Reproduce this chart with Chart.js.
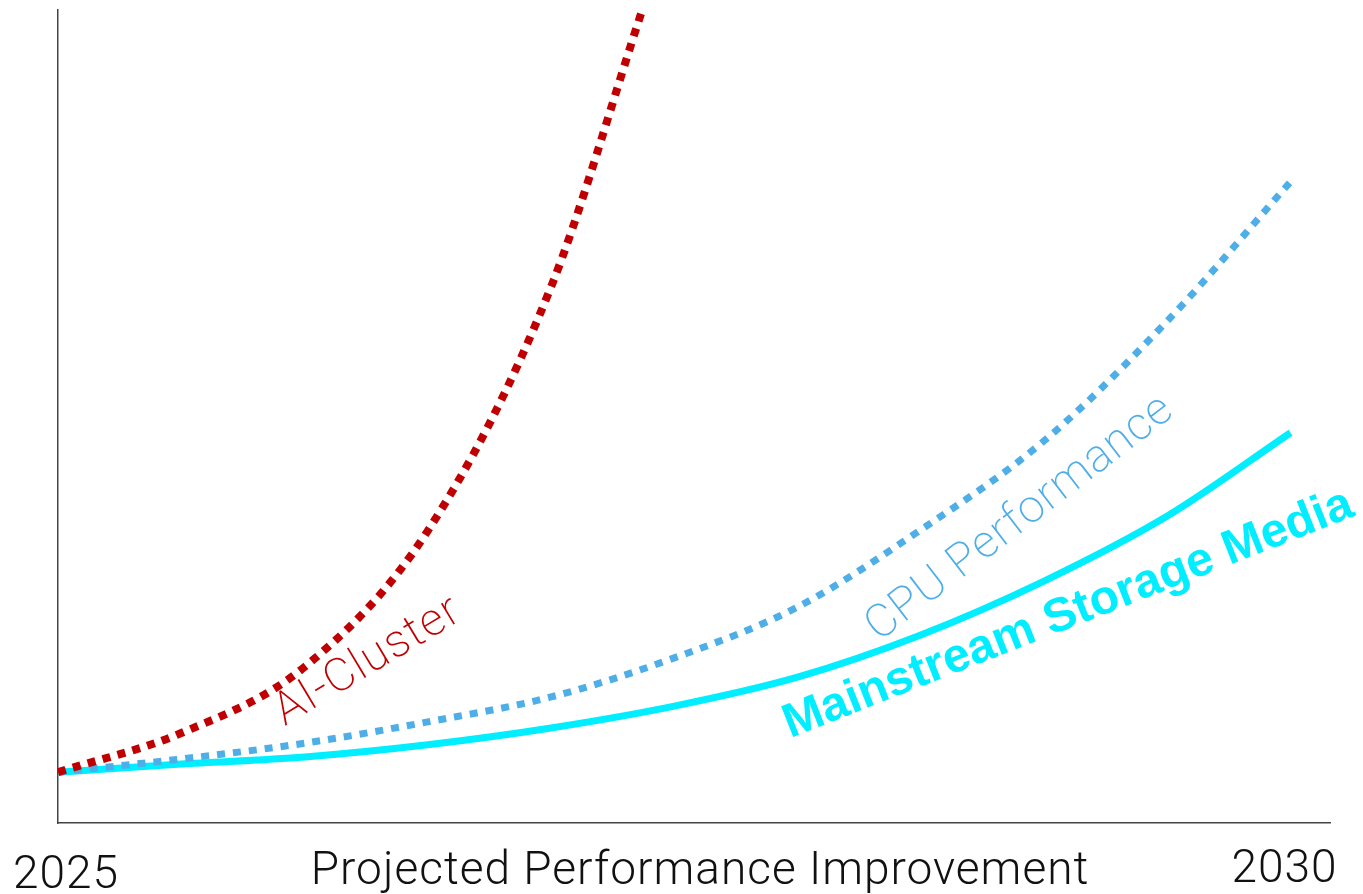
<!DOCTYPE html>
<html>
<head>
<meta charset="utf-8">
<script src="https://cdn.jsdelivr.net/npm/chart.js@4.4.1/dist/chart.umd.min.js"></script>
<style>
  html, body { margin: 0; padding: 0; background: #fff; }
  #wrap { width: 1363px; height: 894px; }
</style>
</head>
<body>
<div id="wrap"><canvas id="perfChart"></canvas></div>
<script>
// relative performance, 2025 = 1
const years = [2025, 2025.5, 2026, 2026.5, 2027, 2027.5, 2028, 2028.5, 2029, 2029.5, 2030];
const storageGain = [1.00, 1.16, 1.30, 1.54, 1.87, 2.30, 2.87, 3.70, 4.76, 6.04, 7.68];
const cpuGain = [1.00, 1.26, 1.57, 1.99, 2.48, 3.25, 4.25, 5.77, 7.52, 9.88, 12.62];
const aiYears = [2025, 2025.5, 2026, 2026.5, 2027, 2027.37];
const aiGain = [1.00, 1.77, 3.07, 5.75, 10.55, 16.0];
const tickYears = [2025, 2030];
const tickLabels = ['2025', '2030'];
const seriesNames = ['AI-Cluster', 'CPU Performance', 'Mainstream Storage Media'];
const axisTitle = 'Projected Performance Improvement';

const RED = '#c00000';
const BLUE = '#4eaee8';
const CYAN = '#00eeff';

function pts(xs, ys) {
  return xs.map((x, i) => ({ x: x, y: ys[i] }));
}

// names written along each curve
const curveLabels = [
  { text: seriesNames[0], x: 2025.92, y: 1.91, angle: -31, color: RED, font: '200 46px Roboto', spacing: '1.5px' },
  { text: seriesNames[1], x: 2028.33, y: 3.56, angle: -37.5, color: BLUE, font: '200 46px Roboto', spacing: '1px' },
  { text: seriesNames[2], x: 2027.97, y: 1.67, angle: -21.5, color: CYAN, font: 'bold 48px "Liberation Sans"', spacing: '0px' }
];

const textPlugin = {
  id: 'textPlugin',
  afterDraw(chart) {
    const ctx = chart.ctx;
    const xs = chart.scales.x, ys = chart.scales.y;
    ctx.save();
    curveLabels.forEach(l => {
      ctx.save();
      ctx.translate(xs.getPixelForValue(l.x), ys.getPixelForValue(l.y));
      ctx.rotate(l.angle * Math.PI / 180);
      ctx.font = l.font;
      ctx.letterSpacing = l.spacing;
      ctx.fillStyle = l.color;
      ctx.textAlign = 'left';
      ctx.textBaseline = 'alphabetic';
      ctx.fillText(l.text, 0, 0);
      ctx.restore();
    });

    // year labels and axis title along the bottom
    ctx.font = '300 46px Roboto';
    ctx.letterSpacing = '1px';
    ctx.fillStyle = '#111';
    ctx.textBaseline = 'alphabetic';
    ctx.textAlign = 'center';
    ctx.fillText(tickLabels[0], xs.getPixelForValue(tickYears[0]) + 8, 888);
    ctx.fillText(tickLabels[1], xs.getPixelForValue(tickYears[1]) - 6, 882);
    ctx.fillText(axisTitle, (chart.chartArea.left + chart.chartArea.right) / 2 + 6, 884);
    ctx.restore();
  }
};

new Chart(document.getElementById('perfChart'), {
  type: 'line',
  data: {
    datasets: [
      {
        label: seriesNames[0],
        data: pts(aiYears, aiGain),
        borderColor: RED,
        borderWidth: 8,
        borderDash: [8, 7.5],
        borderCapStyle: 'butt'
      },
      {
        label: seriesNames[1],
        data: pts(years, cpuGain),
        borderColor: BLUE,
        borderWidth: 7,
        borderDash: [8, 8],
        borderCapStyle: 'butt'
      },
      {
        label: seriesNames[2],
        data: pts(years, storageGain),
        borderColor: CYAN,
        borderWidth: 7
      }
    ]
  },
  options: {
    responsive: true,
    maintainAspectRatio: false,
    animation: false,
    events: [],
    layout: { padding: { top: 10, right: 33, left: 0, bottom: 0 } },
    elements: {
      point: { radius: 0 },
      line: { cubicInterpolationMode: 'monotone', fill: false }
    },
    plugins: {
      legend: { display: false },
      tooltip: { enabled: false }
    },
    scales: {
      x: {
        type: 'linear',
        min: 2025,
        max: 2030.16,
        grid: { display: false },
        border: { display: true, color: '#444', width: 1.5 },
        ticks: { display: false },
        afterFit(s) { s.height = 71; }
      },
      y: {
        min: 0,
        max: 16,
        grid: { display: false },
        border: { display: true, color: '#444', width: 1.5 },
        ticks: { display: false },
        afterFit(s) { s.width = 58; }
      }
    }
  },
  plugins: [textPlugin]
});
</script>
</body>
</html>
